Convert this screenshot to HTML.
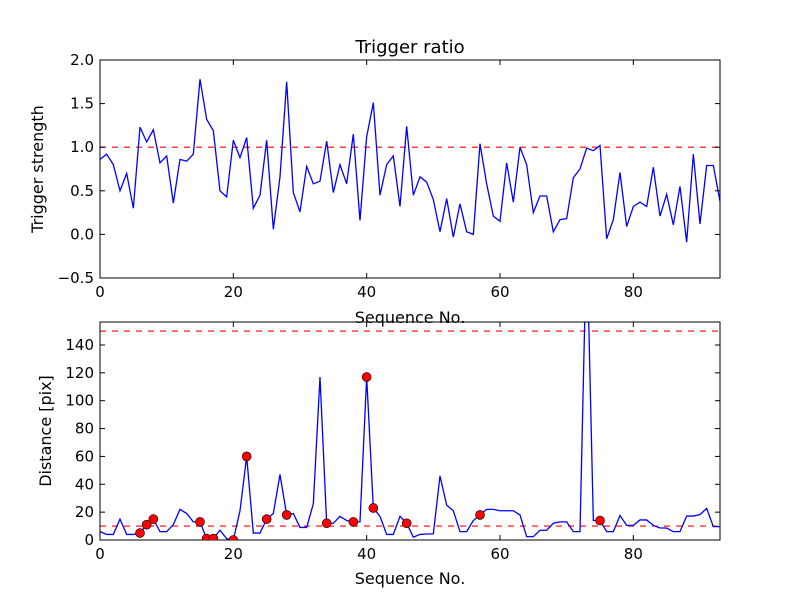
<!DOCTYPE html>
<html><head><meta charset="utf-8"><style>
body{margin:0;background:#fff;}
svg{display:block;font-family:"DejaVu Sans","Liberation Sans",sans-serif;}
</style></head><body>
<svg id="c" width="800" height="600" viewBox="0 0 800 600">
<rect width="800" height="600" fill="#fff"/>
<defs>
<clipPath id="cp1"><rect x="100" y="60" width="620" height="218"/></clipPath>
<clipPath id="cp2"><rect x="100" y="322" width="620" height="218"/></clipPath>
</defs>
<g id="g1"></g>
<g id="g2"></g>
<text x="410" y="53" text-anchor="middle" font-size="18">Trigger ratio</text>
</svg>
<script>
const trigger = [0.86,0.92,0.8,0.5,0.7,0.3,1.23,1.06,1.2,0.82,0.9,0.36,0.86,0.84,0.92,1.78,1.32,1.19,0.5,0.43,1.08,0.88,1.11,0.3,0.45,1.08,0.06,0.66,1.75,0.48,0.26,0.78,0.58,0.61,1.07,0.48,0.8,0.58,1.15,0.16,1.12,1.51,0.45,0.8,0.9,0.32,1.24,0.45,0.66,0.6,0.4,0.03,0.41,-0.03,0.35,0.03,0.0,1.04,0.58,0.21,0.15,0.82,0.37,1.0,0.8,0.25,0.44,0.44,0.03,0.17,0.18,0.65,0.75,0.99,0.96,1.02,-0.05,0.17,0.71,0.09,0.32,0.37,0.32,0.77,0.21,0.46,0.11,0.55,-0.09,0.92,0.12,0.79,0.79,0.38];
const distance = [6,4,4,15,4,4,5,11,15,6,6,11,22,19,13,13,1,1,7,1,0,21,60,5,5,15,19,47,18,19,9,9,26,117,12,12,17,14,13,13,117,23,17,4,4,17,12,2,4,4.3,4.4,46,25,21,6,6,14,18,22,22,21,21,21,18,2.4,2.4,7,7,12,13,13,6,6,220,14,14,6,6,17.6,10.5,10.5,14.4,14.4,10.5,8.6,8.6,6,6,17.2,17.2,18.2,22.7,9.6,9.6];
const outliers = [6,7,8,15,16,17,20,22,25,28,34,38,40,41,46,57,75];
const xTicks = [0,20,40,60,80];
const yTicks1 = [-0.5,0.0,0.5,1.0,1.5,2.0];
const yTicks2 = [0,20,40,60,80,100,120,140];
const thr1 = [1.0];
const thr2 = [10,150];

const NS='http://www.w3.org/2000/svg';
function mk(p,t,a){const e=document.createElementNS(NS,t);for(const k in a)e.setAttribute(k,a[k]);p.appendChild(e);return e;}
const L=100,W=620,H=218,XMAX=93;
const sx=v=>L+v/XMAX*W;

function panel(g,top,ymin,ymax,data,yt,fmt,thr,clip,ylab,ylabX,xlabY){
  const sy=v=>top+H-(v-ymin)/(ymax-ymin)*H;
  thr.forEach(t=>{
    const l=mk(g,'line',{x1:L,x2:L+W,y1:sy(t),y2:sy(t),stroke:'#f00','stroke-width':1.2,'stroke-dasharray':'6,6'});
    
    
  });
  const pts=data.map((v,i)=>sx(i).toFixed(2)+','+sy(v).toFixed(2)).join(' ');
  const pl=mk(g,'polyline',{points:pts,fill:'none',stroke:'#00f','stroke-width':1.3,'clip-path':'url(#'+clip+')'});
  
  
  const fr=mk(g,'rect',{x:L,y:top,width:W,height:H,fill:'none',stroke:'#000','stroke-width':1});
  
  
  xTicks.forEach(t=>{
    const x=sx(t);
    mk(g,'line',{x1:x,x2:x,y1:top+H,y2:top+H-5,stroke:'#000'});
    mk(g,'line',{x1:x,x2:x,y1:top,y2:top+5,stroke:'#000'});
    const tx=mk(g,'text',{x:x,y:top+H+19,'text-anchor':'middle','font-size':15});
    tx.textContent=t;
    
    
  });
  yt.forEach(t=>{
    const y=sy(t);
    mk(g,'line',{x1:L,x2:L+5,y1:y,y2:y,stroke:'#000'});
    mk(g,'line',{x1:L+W,x2:L+W-5,y1:y,y2:y,stroke:'#000'});
    const tx=mk(g,'text',{x:L-6,y:y+5,'text-anchor':'end','font-size':15});
    tx.textContent=fmt(t);
    
    
  });
  const xl=mk(g,'text',{x:410,y:xlabY,'text-anchor':'middle','font-size':16});
  xl.textContent='Sequence No.';
  
  
  const yl=mk(g,'text',{x:0,y:0,'text-anchor':'middle','font-size':16,transform:'translate('+ylabX+','+(top+H/2)+') rotate(-90)'});
  yl.textContent=ylab;
  
  
  return sy;
}
const g1=document.getElementById('g1'),g2=document.getElementById('g2');
panel(g1,60,-0.5,2.0,trigger,yTicks1,t=>(t<0?'\u2212':'')+Math.abs(t).toFixed(1),thr1,'cp1','Trigger strength',43,323);
const sy2=panel(g2,322,0,156.5,distance,yTicks2,t=>String(t),thr2,'cp2','Distance [pix]',51,584);
outliers.forEach(i=>{
  const c=mk(g2,'circle',{cx:sx(i),cy:sy2(distance[i]),r:4.5,fill:'#f00',stroke:'#000','stroke-width':0.6,'clip-path':'url(#cp2)'});
  
  
});
</script>
</body></html>
